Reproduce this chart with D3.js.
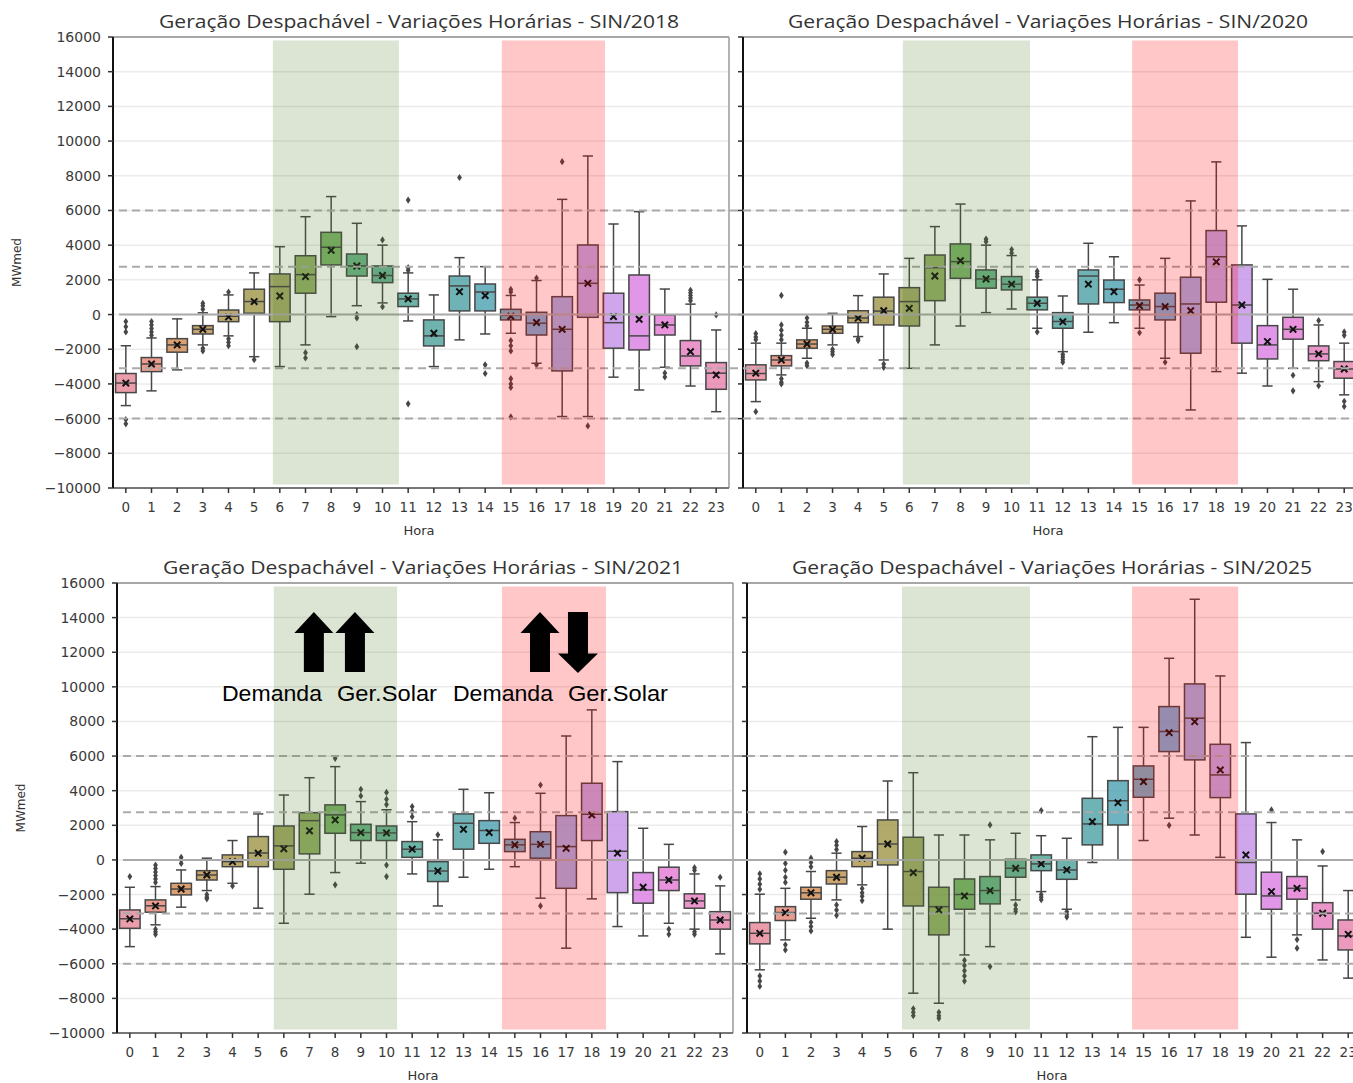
<!DOCTYPE html>
<html>
<head>
<meta charset="utf-8">
<script src="https://cdn.jsdelivr.net/npm/d3@7"></script>
<style>
  body { margin: 0; background: #fff; }
  svg { display: block; }
</style>
</head>
<body>
<div id="chart"></div>
<script>
// ---- data ----
var hours = d3.range(24);
var yTicks = d3.range(-10000, 16001, 2000);
var refLines = [6000, 2750, -3100, -6000];

// each row: [whisker low, q1, median, q3, whisker high, mean], one row per hour
var box2018 = [
  [-5250, -4500, -3950, -3400, -1800, -3950], [-4400, -3290, -2850, -2480, -1350, -2850],
  [-3190, -2170, -1750, -1390, -250, -1750], [-1750, -1120, -850, -640, 100, -850],
  [-1230, -410, -100, 260, 1130, -140], [-2430, 75, 750, 1460, 2400, 745],
  [-3000, -410, 1610, 2340, 3910, 1070], [-1750, 1230, 2300, 3390, 5640, 2190],
  [-120, 2860, 3880, 4740, 6800, 3700], [510, 2220, 2800, 3490, 5260, 2800],
  [670, 1840, 2250, 2800, 4000, 2250], [-370, 460, 900, 1230, 2400, 900],
  [-3000, -1810, -1230, -310, 1130, -1080], [-1460, 210, 1650, 2220, 3280, 1320],
  [-1120, 210, 1300, 1760, 2760, 1090], [-1080, -310, -50, 300, 1100, -100],
  [-2810, -1180, -500, 130, 1960, -460], [-5880, -3250, -850, 1030, 6640, -850],
  [-5880, -160, 1800, 4010, 9140, 1800], [-3610, -1940, -470, 1230, 5220, -120],
  [-4350, -2040, -1230, 2280, 5930, -270], [-3040, -1180, -600, -20, 1470, -600],
  [-4120, -2960, -2390, -1500, 600, -2140], [-5600, -4310, -3380, -2770, -890, -3480]
];
var fliers2018 = [
  [-400, -700, -1000, -6050, -6300], [-400, -600, -800, -1000, -1200], [], [300, 500, 650, -1950, -2100],
  [1300, -1400, -1600, -1800], [-2600], [], [-2200, -2500], [], [0, -200, -1850], [4300, 450],
  [2550, 2700, 6600, -5150], [], [7900], [-2900, -3400],
  [1300, 1450, -1500, -1800, -2100, -3700, -4000, -4200, -5900], [2100, -2900], [8810], [-6420],
  [], [], [-3370, -3600], [800, 950, 1100, 1250, 1400], [-20]
];

var box2020 = [
  [-5020, -3770, -3400, -2900, -1650, -3380], [-3480, -2960, -2620, -2370, -1650, -2620],
  [-2520, -1940, -1700, -1460, -790, -1700], [-1750, -1080, -850, -660, 70, -850],
  [-1270, -470, -200, 220, 1090, -210], [-2620, -600, 200, 1000, 2340, 220],
  [-3100, -660, 745, 1550, 3240, 360], [-1750, 800, 2700, 3430, 5070, 2220],
  [-660, 2090, 3050, 4070, 6370, 3100], [110, 1520, 2050, 2570, 4000, 2050],
  [320, 1420, 1750, 2190, 3400, 1750], [-790, 270, 650, 1000, 2000, 650],
  [-2140, -790, -400, 110, 1070, -410], [-1020, 610, 2220, 2570, 4110, 1750],
  [-470, 690, 1460, 1990, 3330, 1320], [-790, 270, 550, 840, 1700, 510],
  [-2520, -310, 460, 1230, 3240, 460], [-5500, -2230, 610, 2150, 6550, 220],
  [-3290, 710, 3330, 4840, 8800, 3040], [-3380, -1650, 550, 2860, 5110, 550],
  [-4120, -2560, -1750, -640, 2030, -1560], [-3100, -1420, -850, -160, 1460, -850],
  [-3870, -2660, -2270, -1810, -600, -2270], [-4630, -3670, -3140, -2710, -1650, -3140]
];
var fliers2020 = [
  [-1100, -1300, -1450, -5600], [-600, -900, -1200, -1450, 1100, -3700, -3900, -4000],
  [-200, -450, -650, -2800, -2950], [-2000, -2150, -2300], [-1400, -1500], [-2850, -3050],
  [], [], [], [4200, 4350], [3550, 3750], [2200, 2350, 2500, -1000], [-2300, -2450, -2600, -2750],
  [], [], [2000, -1050], [-2750], [], [], [], [], [-3500, -4400], [-350, -4100],
  [-1000, -1200, -5000, -5300]
];

var box2021 = [
  [-5010, -3950, -3400, -2890, -1580, -3410], [-3750, -3020, -2650, -2310, -1540, -2660],
  [-2730, -2020, -1680, -1350, -580, -1680], [-1770, -1160, -870, -620, 100, -870],
  [-1350, -390, -100, 290, 1120, -100], [-2790, -390, 400, 1350, 2660, 390],
  [-3660, -540, 810, 1960, 3750, 640], [-1980, 350, 2270, 2730, 4750, 1680],
  [-730, 1540, 2600, 3180, 5390, 2310], [-190, 1120, 1580, 2060, 3370, 1580],
  [0, 1120, 1560, 1960, 2900, 1560], [-810, 150, 620, 1060, 2210, 620],
  [-2660, -1250, -640, -100, 1160, -640], [-1000, 620, 2120, 2660, 4080, 1770],
  [-540, 960, 1700, 2270, 3880, 1580], [-390, 480, 870, 1190, 2160, 870],
  [-2210, 100, 900, 1630, 3850, 900], [-5100, -1640, 770, 2560, 7160, 670],
  [-2250, 1120, 2640, 4430, 8670, 2600], [-3850, -1890, 500, 2790, 5680, 390],
  [-4390, -2500, -1730, -730, 1830, -1580], [-3660, -1770, -1160, -420, 900, -1160],
  [-4000, -2790, -2370, -1960, -810, -2370], [-5430, -4000, -3470, -2990, -1500, -3470]
];
var fliers2021 = [
  [-960], [-300, -500, -700, -900, -1100, -1300, -4000, -4150, -4300], [-200, 0, 150],
  [-2000, -2150, -2250], [-1500], [], [], [], [5870, -1440], [3700, 4080],
  [3200, 3500, 3900, -300, -960], [2500, 2800, 3080], [1450], [], [], [2410], [4330, -2660],
  [], [], [], [], [-4000, -4300], [-450, -600, -4150, -4300], [-1000]
];

var box2025 = [
  [-6350, -4850, -4240, -3620, -1980, -4240], [-4620, -3500, -3040, -2700, -1640, -3040],
  [-3370, -2270, -1900, -1580, -670, -1900], [-2310, -1390, -1000, -620, 390, -1000],
  [-1440, -390, 100, 480, 1930, 100], [-4000, -290, 920, 2310, 4560, 920],
  [-7700, -2660, -670, 1310, 5040, -730], [-8280, -4330, -2700, -1580, 1440, -2890],
  [-5490, -2850, -2000, -1100, 1440, -2080], [-5010, -2540, -1770, -960, 1160, -1770],
  [-2310, -1000, -480, 40, 1540, -480], [-1830, -620, -230, 290, 1400, -230],
  [-2850, -1120, -580, 0, 1250, -580], [-150, 870, 2080, 3560, 7120, 2210],
  [0, 2020, 3420, 4580, 7660, 3310], [1120, 3620, 4660, 5430, 7660, 4520],
  [2410, 6260, 7420, 8860, 11650, 7350], [1440, 5780, 8190, 10170, 15060, 7990],
  [150, 3600, 4910, 6680, 10630, 5200], [-4470, -1980, -150, 2660, 6780, 290],
  [-5620, -2850, -2080, -710, 2160, -1830], [-4330, -2270, -1640, -960, 1160, -1640],
  [-5780, -4000, -3080, -2470, -350, -3080], [-6830, -5200, -4390, -3470, -1770, -4300]
];
var fliers2025 = [
  [-800, -1100, -1400, -1700, -6700, -7000, -7300], [-1300, -1000, -600, -200, 450, -4900, -5200],
  [-400, -150, 100, -3600, -3850, -4100], [600, 850, 1060, -2600, -2900, -3200],
  [-1650, -1900, -2100, -2350], [], [-8600, -8800, -9000], [-8800, -9000, -9150],
  [-5800, -6100, -6400, -6700, -7000], [2020, -6160], [-2600, -2850, -3000],
  [2850, -2000, -2150, -2300], [-3000, -3150, -3300], [], [], [], [2000], [], [], [],
  [2890], [-4600, -5100], [480], []
];

// annotation on the 2021 panel: [hour, up(1)/down(-1)] and labels [hour, text]
var arrows2021 = [[7.17, 1], [8.77, 1], [15.98, 1], [17.46, -1]];
var words2021 = [[3.59, "Demanda"], [8.07, "Ger.Solar"], [12.59, "Demanda"], [17.07, "Ger.Solar"]];

// ---- layout ----
var W = 1353, H = 1083;
var panels = [
  { year: "2018", boxes: box2018, fliers: fliers2018, left: 113, right: 729, top: 37, bottom: 488,
    yLabels: true, green: [5.73, 10.64], red: [14.65, 18.67] },
  { year: "2020", boxes: box2020, fliers: fliers2020, left: 743, right: 1357, top: 37, bottom: 488,
    yLabels: false, green: [5.75, 10.72], red: [14.71, 18.85] },
  { year: "2021", boxes: box2021, fliers: fliers2021, left: 117, right: 733, top: 583, bottom: 1033,
    yLabels: true, green: [5.61, 10.41], red: [14.5, 18.55] },
  { year: "2025", boxes: box2025, fliers: fliers2025, left: 747, right: 1361, top: 583, bottom: 1033,
    yLabels: false, green: [5.56, 10.56], red: [14.55, 18.7] }
];

// ---- husl palette (same maths as seaborn's husl_palette) ----
var M = [[3.2406, -1.5372, -0.4986], [-0.9689, 1.8758, 0.0415], [0.0557, -0.2040, 1.0570]];
function maxChroma(L, H) {
  var hr = H * Math.PI / 180, sinH = Math.sin(hr), cosH = Math.cos(hr);
  var sub1 = Math.pow(L + 16, 3) / 1560896;
  var sub2 = sub1 > 0.008856 ? sub1 : L / 903.3;
  var result = Infinity;
  M.forEach(function (r) {
    var top = (0.99915 * r[0] + 1.05122 * r[1] + 1.14460 * r[2]) * sub2;
    var rb = 0.86330 * r[2] - 0.17266 * r[1];
    var lb = 0.12949 * r[2] - 0.38848 * r[0];
    var bottom = (rb * sinH + lb * cosH) * sub2;
    [0, 1].forEach(function (t) {
      var C = L * (top - 1.05122 * t) / (bottom + 0.17266 * sinH * t);
      if (C > 0 && C < result) result = C;
    });
  });
  return result;
}
function huslToRgb(H, S, L) {
  var C = maxChroma(L, H) / 100 * S;
  var hr = H * Math.PI / 180;
  var U = Math.cos(hr) * C, V = Math.sin(hr) * C;
  var t = (L + 16) / 116;
  var varY = Math.pow(t, 3) > 0.008856 ? Math.pow(t, 3) : (116 * t - 16) / 903.3;
  var varU = U / (13 * L) + 0.19784;
  var varV = V / (13 * L) + 0.46834;
  var Y = varY;
  var X = -(9 * Y * varU) / ((varU - 4) * varV - varU * varV);
  var Z = (9 * Y - 15 * varV * Y - varV * X) / (3 * varV);
  return M.map(function (r) {
    var c = r[0] * X + r[1] * Y + r[2] * Z;
    c = c <= 0.0031308 ? 12.92 * c : 1.055 * Math.pow(c, 1 / 2.4) - 0.055;
    return Math.max(0, Math.min(1, c));
  });
}
var boxColors = hours.map(function (i) {
  var h = ((i / 24 + 0.01) % 1) * 359;
  var rgb = huslToRgb(h, 0.9 * 99, 0.65 * 99);
  var c = d3.hsl(d3.rgb(rgb[0] * 255, rgb[1] * 255, rgb[2] * 255));
  c.s *= 0.75;   // seaborn boxplot saturation
  return c;
});
var lineGray = "#474747";

// ---- drawing ----
var svg = d3.select("#chart").append("svg")
  .attr("width", W).attr("height", H)
  .style("font-family", "'DejaVu Sans', sans-serif");

var fmt = d3.format("d");
var diamond = "M0,-3.6L2.4,0L0,3.6L-2.4,0Z";

panels.forEach(function (p) {
  var x = d3.scaleLinear().domain([-0.5, 23.5]).range([p.left, p.right]);
  var y = d3.scaleLinear().domain([-10000, 16000]).range([p.bottom, p.top]);
  p.x = x; p.y = y;
  var step = x(1) - x(0);
  var g = svg.append("g");

  // light grid
  g.selectAll(".grid").data(yTicks.slice(1, -1)).join("line")
    .attr("x1", p.left).attr("x2", p.right)
    .attr("y1", function (d) { return y(d); }).attr("y2", function (d) { return y(d); })
    .attr("stroke", "#ebebeb").attr("stroke-width", 1.5);

  // boxes
  var bw = step * 0.8, cw = bw * 0.5;
  var bx = g.selectAll(".box").data(p.boxes).join("g");
  bx.append("line")
    .attr("x1", function (d, i) { return x(i); }).attr("x2", function (d, i) { return x(i); })
    .attr("y1", function (d) { return y(d[0]); }).attr("y2", function (d) { return y(d[1]); })
    .attr("stroke", lineGray).attr("stroke-width", 1.5);
  bx.append("line")
    .attr("x1", function (d, i) { return x(i); }).attr("x2", function (d, i) { return x(i); })
    .attr("y1", function (d) { return y(d[3]); }).attr("y2", function (d) { return y(d[4]); })
    .attr("stroke", lineGray).attr("stroke-width", 1.5);
  [0, 4].forEach(function (k) {
    bx.append("line")
      .attr("x1", function (d, i) { return x(i) - cw / 2; }).attr("x2", function (d, i) { return x(i) + cw / 2; })
      .attr("y1", function (d) { return y(d[k]); }).attr("y2", function (d) { return y(d[k]); })
      .attr("stroke", lineGray).attr("stroke-width", 1.5);
  });
  bx.append("rect")
    .attr("x", function (d, i) { return x(i) - bw / 2; }).attr("width", bw)
    .attr("y", function (d) { return y(d[3]); })
    .attr("height", function (d) { return Math.max(1, y(d[1]) - y(d[3])); })
    .attr("fill", function (d, i) { return boxColors[i]; })
    .attr("fill-opacity", 0.78)
    .attr("stroke", lineGray).attr("stroke-width", 1.5);
  bx.append("line")
    .attr("x1", function (d, i) { return x(i) - bw / 2; }).attr("x2", function (d, i) { return x(i) + bw / 2; })
    .attr("y1", function (d) { return y(d[2]); }).attr("y2", function (d) { return y(d[2]); })
    .attr("stroke", lineGray).attr("stroke-width", 1.5);

  // outliers
  p.fliers.forEach(function (list, i) {
    g.selectAll(null).data(list).join("path")
      .attr("d", diamond)
      .attr("transform", function (v) { return "translate(" + x(i) + "," + y(v) + ")"; })
      .attr("fill", lineGray);
  });

  // mean markers
  bx.append("path")
    .attr("d", "M-3.2,-3.2L3.2,3.2M-3.2,3.2L3.2,-3.2")
    .attr("transform", function (d, i) { return "translate(" + x(i) + "," + y(d[5]) + ")"; })
    .attr("stroke", "#111").attr("stroke-width", 2).attr("fill", "none");

  // spines
  g.append("line").attr("x1", p.left).attr("x2", p.right).attr("y1", p.top).attr("y2", p.top)
    .attr("stroke", "#8a8a8a").attr("stroke-width", 1.5);
  g.append("line").attr("x1", p.right).attr("x2", p.right).attr("y1", p.top).attr("y2", p.bottom)
    .attr("stroke", "#9a9a9a").attr("stroke-width", 1.5);
  g.append("line").attr("x1", p.left).attr("x2", p.right).attr("y1", p.bottom).attr("y2", p.bottom)
    .attr("stroke", "#777").attr("stroke-width", 2);
  g.append("line").attr("x1", p.left).attr("x2", p.left).attr("y1", p.top).attr("y2", p.bottom)
    .attr("stroke", "#111").attr("stroke-width", 2);

  // ticks
  g.selectAll(".xt").data(hours).join("line")
    .attr("x1", function (d) { return x(d); }).attr("x2", function (d) { return x(d); })
    .attr("y1", p.bottom).attr("y2", p.bottom + 5)
    .attr("stroke", "#333").attr("stroke-width", 1.5);
  g.selectAll(".yt").data(yTicks).join("line")
    .attr("x1", p.left - 5).attr("x2", p.left)
    .attr("y1", function (d) { return y(d); }).attr("y2", function (d) { return y(d); })
    .attr("stroke", "#333").attr("stroke-width", 1.5);

  g.selectAll(".xl").data(hours).join("text")
    .attr("x", function (d) { return x(d); }).attr("y", p.bottom + 24)
    .attr("text-anchor", "middle").attr("font-size", "13.5px").attr("fill", "#3a3a3a")
    .text(function (d) { return d; });

  if (p.yLabels) {
    g.selectAll(".yl").data(yTicks).join("text")
      .attr("x", p.left - 12).attr("y", function (d) { return y(d) + 5; })
      .attr("text-anchor", "end").attr("font-size", "14px").attr("fill", "#3a3a3a")
      .text(function (d) { return fmt(d); });
    g.append("text")
      .attr("transform", "translate(" + (p.left - 92) + "," + y(3000) + ") rotate(-90)")
      .attr("text-anchor", "middle").attr("font-size", "12px").attr("fill", "#333")
      .text("MWmed");
  }

  g.append("text")
    .attr("x", (p.left + p.right) / 2 - 2).attr("y", p.bottom + 47)
    .attr("text-anchor", "middle").attr("font-size", "13px").attr("fill", "#333")
    .text("Hora");

  g.append("text")
    .attr("x", (p.left + p.right) / 2 - 2).attr("y", p.top - 9)
    .attr("text-anchor", "middle").attr("font-size", "18px").attr("fill", "#333")
    .attr("font-family", "'Open Sans', sans-serif")
    .attr("textLength", 520).attr("lengthAdjust", "spacingAndGlyphs")
    .text("Geração Despachável - Variações Horárias - SIN/" + p.year);
});

// reference lines run across each row of panels
[panels[0], panels[2]].forEach(function (p) {
  var y = p.y;
  svg.append("line")
    .attr("x1", p.left + 6).attr("x2", W)
    .attr("y1", y(0)).attr("y2", y(0))
    .attr("stroke", "#aaa").attr("stroke-width", 2);
  svg.selectAll(null).data(refLines).join("line")
    .attr("x1", p.left + 6).attr("x2", W)
    .attr("y1", function (d) { return y(d); }).attr("y2", function (d) { return y(d); })
    .attr("stroke", "#aaa").attr("stroke-width", 2).attr("stroke-dasharray", "8,5");
});

// morning / evening bands drawn over the boxes
panels.forEach(function (p) {
  var x = p.x, y = p.y;
  svg.append("rect")
    .attr("x", x(p.green[0])).attr("width", x(p.green[1]) - x(p.green[0]))
    .attr("y", y(15800)).attr("height", y(-9800) - y(15800))
    .attr("fill", "rgb(80,120,40)").attr("fill-opacity", 0.2);
  svg.append("rect")
    .attr("x", x(p.red[0])).attr("width", x(p.red[1]) - x(p.red[0]))
    .attr("y", y(15800)).attr("height", y(-9800) - y(15800))
    .attr("fill", "rgb(255,0,0)").attr("fill-opacity", 0.22);
});

// arrows and labels on the 2021 panel
var pa = panels[2];
var ax = pa.x, ay = pa.y;
var tipV = 14330, headV = 13110, tailV = 10860;
arrows2021.forEach(function (a) {
  var cx = ax(a[0]);
  var pts;
  if (a[1] > 0) {
    var yt = ay(tipV), yh = ay(headV), yb = ay(tailV);
    pts = [[cx, yt], [cx + 19.5, yh], [cx + 10, yh], [cx + 10, yb], [cx - 10, yb], [cx - 10, yh], [cx - 19.5, yh]];
  } else {
    var ytop = ay(tipV), yh2 = ay(11920), ybt = ay(10800);
    pts = [[cx - 10, ytop], [cx + 10, ytop], [cx + 10, yh2], [cx + 20, yh2], [cx, ybt], [cx - 20, yh2], [cx - 10, yh2]];
  }
  svg.append("path").attr("d", "M" + pts.join("L") + "Z").attr("fill", "#000");
});
words2021.forEach(function (w) {
  svg.append("text")
    .attr("x", ax(w[0])).attr("y", ay(9190))
    .attr("font-family", "'Liberation Sans', Arial, sans-serif")
    .attr("font-size", "22px").attr("fill", "#000")
    .attr("textLength", 100).attr("lengthAdjust", "spacingAndGlyphs")
    .text(w[1]);
});
</script>
</body>
</html>
